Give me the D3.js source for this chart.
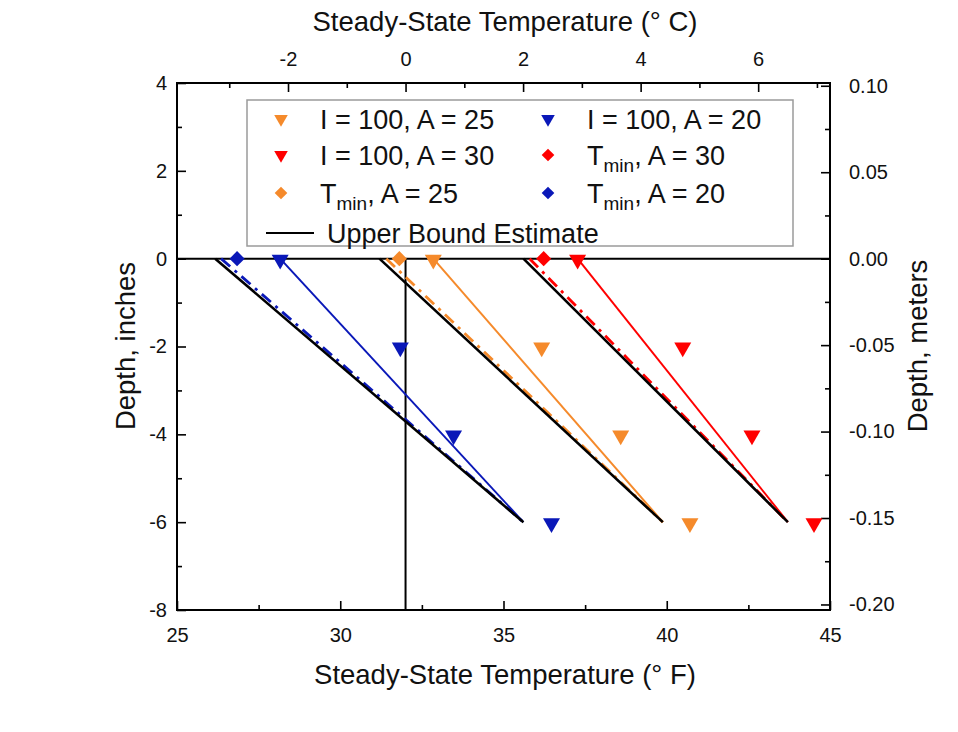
<!DOCTYPE html>
<html>
<head>
<meta charset="utf-8">
<script src="https://cdn.jsdelivr.net/npm/d3@7"></script>
<style>
  html, body { margin: 0; padding: 0; background: #fff; }
  svg { display: block; font-family: "Liberation Sans", Arial, sans-serif; }
</style>
</head>
<body>
<svg id="chart" width="958" height="732"></svg>
<script>
// Depths (inches) at which the steady-state profile is evaluated
const depths = [0, -2, -4, -6];

// I = 100 steady-state temperatures (°F) at each depth
const i100A20 = [28.16, 31.84, 33.47, 36.47];
const i100A25 = [32.85, 36.17, 38.59, 40.71];
const i100A30 = [37.27, 40.49, 42.61, 44.51];

// Minimum surface temperatures (°F) at depth 0
const tminA20 = 26.84;
const tminA25 = 31.81;
const tminA30 = 36.23;

// Upper bound estimate lines: surface and 6-inch temperatures (°F)
const upperTop = [26.17, 31.20, 35.61];
const upperBottom = [35.61, 39.88, 43.71];

// Solid fitted lines from the I = 100 surface points
const fitTop = [28.16, 32.85, 37.27];
const fitBottom = [35.61, 39.88, 43.71];

// Dash-dot lines tied to the T_min values
const tminLineTop = [26.35, 31.41, 35.80];
const tminLineBottom = [35.61, 39.88, 43.71];

const seriesColors = ["#0a18b8", "#f58a2b", "#ff0000"]; // A = 20, 25, 30

// Tick values
const fTicks = [25, 30, 35, 40, 45];
const cTicks = [-2, 0, 2, 4, 6];
const inchTicks = [4, 2, 0, -2, -4, -6, -8];
const meterTicks = [0.10, 0.05, 0.00, -0.05, -0.10, -0.15, -0.20];

const svg = d3.select("#chart");
const pL = 177, pR = 830, pT = 83, pB = 610;

const x = d3.scaleLinear().domain([25, 45]).range([pL, pR]);
const y = d3.scaleLinear().domain([4, -8]).range([pT, pB]);
const toC = f => (f - 32) * 5 / 9;
const xC = d3.scaleLinear().domain([toC(25), toC(45)]).range([pL, pR]);
const yM = d3.scaleLinear().domain([4 * 0.0254, -8 * 0.0254]).range([pT, pB]);

const majorLen = 9, minorLen = 5;
// plain hyphen for negative tick labels
const fmtInt = d => String(Math.round(d));
const fmt2 = d => (Math.abs(d) < 1e-9 ? 0 : d).toFixed(2);

function styleAxis(g) {
  g.select(".domain").remove();
  g.selectAll(".tick line").attr("stroke", "#000").attr("stroke-width", 1.6);
  g.selectAll(".tick text").attr("font-size", 20).attr("fill", "#111")
    .attr("font-family", "'Liberation Sans', Arial, sans-serif");
}

// Bottom axis (°F), ticks pointing inward
svg.append("g").attr("transform", `translate(0,${pB})`)
  .call(d3.axisBottom(x).tickValues(d3.range(27.5, 45, 5)).tickSize(-minorLen).tickFormat(""))
  .call(styleAxis);
svg.append("g").attr("transform", `translate(0,${pB})`)
  .call(d3.axisBottom(x).tickValues(fTicks).tickSize(-majorLen).tickPadding(majorLen + 9).tickFormat(fmtInt))
  .call(styleAxis);

// Top axis (°C)
svg.append("g").attr("transform", `translate(0,${pT})`)
  .call(d3.axisTop(xC).tickValues([-3, -1, 1, 3, 5, 7]).tickSize(-minorLen).tickFormat(""))
  .call(styleAxis);
svg.append("g").attr("transform", `translate(0,${pT})`)
  .call(d3.axisTop(xC).tickValues(cTicks).tickSize(-majorLen).tickPadding(majorLen + 8).tickFormat(fmtInt))
  .call(styleAxis);

// Left axis (inches)
svg.append("g").attr("transform", `translate(${pL},0)`)
  .call(d3.axisLeft(y).tickValues([3, 1, -1, -3, -5, -7]).tickSize(-minorLen).tickFormat(""))
  .call(styleAxis);
svg.append("g").attr("transform", `translate(${pL},0)`)
  .call(d3.axisLeft(y).tickValues(inchTicks).tickSize(-majorLen).tickPadding(majorLen + 1).tickFormat(fmtInt))
  .call(styleAxis);

// Right axis (meters)
svg.append("g").attr("transform", `translate(${pR},0)`)
  .call(d3.axisRight(yM).tickValues([0.075, 0.025, -0.025, -0.075, -0.125, -0.175]).tickSize(-minorLen).tickFormat(""))
  .call(styleAxis);
svg.append("g").attr("transform", `translate(${pR},0)`)
  .call(d3.axisRight(yM).tickValues(meterTicks).tickSize(-majorLen).tickPadding(majorLen + 10).tickFormat(fmt2))
  .call(styleAxis);

// Frame
svg.append("rect").attr("x", pL).attr("y", pT)
  .attr("width", pR - pL).attr("height", pB - pT)
  .attr("fill", "none").attr("stroke", "#000").attr("stroke-width", 2);

// Reference lines: ground surface and freezing point
svg.append("line").attr("x1", pL).attr("x2", pR)
  .attr("y1", y(0)).attr("y2", y(0))
  .attr("stroke", "#000").attr("stroke-width", 2);
svg.append("line").attr("x1", x(32)).attr("x2", x(32))
  .attr("y1", y(0)).attr("y2", y(-8))
  .attr("stroke", "#000").attr("stroke-width", 2);

const lineGen = d3.line().x(d => x(d[0])).y(d => y(d[1]));
const plot = svg.append("g");

// Dash-dot T_min lines
tminLineTop.forEach((t, i) => {
  plot.append("path")
    .attr("d", lineGen([[t, 0], [tminLineBottom[i], -6]]))
    .attr("fill", "none").attr("stroke", seriesColors[i]).attr("stroke-width", 2.8)
    .attr("stroke-dasharray", "12,6,3,6");
});

// Solid fitted lines
fitTop.forEach((t, i) => {
  plot.append("path")
    .attr("d", lineGen([[t, 0], [fitBottom[i], -6]]))
    .attr("fill", "none").attr("stroke", seriesColors[i]).attr("stroke-width", 2);
});

// Upper bound estimates
upperTop.forEach((t, i) => {
  plot.append("path")
    .attr("d", lineGen([[t, 0], [upperBottom[i], -6]]))
    .attr("fill", "none").attr("stroke", "#000").attr("stroke-width", 2.6);
});

const triangle = d3.symbol().type(d3.symbolTriangle).size(125);
const diamond = d3.symbol().type(d3.symbolSquare).size(115);

// I = 100 triangles
[i100A20, i100A25, i100A30].forEach((vals, i) => {
  plot.selectAll(null).data(vals.map((v, k) => [v, depths[k]])).enter()
    .append("path")
    .attr("d", triangle)
    .attr("transform", d => `translate(${x(d[0])},${y(d[1]) + 1}) rotate(180)`)
    .attr("fill", seriesColors[i]);
});

// T_min diamonds
[tminA20, tminA25, tminA30].forEach((v, i) => {
  plot.append("path")
    .attr("d", diamond)
    .attr("transform", `translate(${x(v)},${y(0)}) rotate(45)`)
    .attr("fill", seriesColors[i]);
});

// Axis titles
const titleSize = 27.5;
svg.append("text").attr("x", 505).attr("y", 684)
  .attr("text-anchor", "middle").attr("font-size", titleSize).attr("fill", "#111")
  .text("Steady-State Temperature (° F)");
svg.append("text").attr("x", 505).attr("y", 31)
  .attr("text-anchor", "middle").attr("font-size", titleSize).attr("fill", "#111")
  .text("Steady-State Temperature (° C)");
svg.append("text")
  .attr("transform", `translate(135,346) rotate(-90)`)
  .attr("text-anchor", "middle").attr("font-size", titleSize).attr("fill", "#111")
  .text("Depth, inches");
svg.append("text")
  .attr("transform", `translate(927,346) rotate(-90)`)
  .attr("text-anchor", "middle").attr("font-size", titleSize).attr("fill", "#111")
  .text("Depth, meters");

// Legend
const legend = svg.append("g");
legend.append("rect").attr("x", 247).attr("y", 100).attr("width", 546).attr("height", 146)
  .attr("fill", "#fff").attr("stroke", "#9a9a9a").attr("stroke-width", 1.5);

const legendItems = [
  { col: 0, row: 0, sym: "tri", color: seriesColors[1], label: ["I = 100, A = 25"] },
  { col: 1, row: 0, sym: "tri", color: seriesColors[0], label: ["I = 100, A = 20"] },
  { col: 0, row: 1, sym: "tri", color: seriesColors[2], label: ["I = 100, A = 30"] },
  { col: 1, row: 1, sym: "dia", color: seriesColors[2], label: ["T", "min", ", A = 30"] },
  { col: 0, row: 2, sym: "dia", color: seriesColors[1], label: ["T", "min", ", A = 25"] },
  { col: 1, row: 2, sym: "dia", color: seriesColors[0], label: ["T", "min", ", A = 20"] },
  { col: 0, row: 3, sym: "line", color: "#000", label: ["Upper Bound Estimate"] }
];
const rowY = [119, 155, 193, 233];
const symX = [281, 548];
const textX = [320, 587];
const legendTri = d3.symbol().type(d3.symbolTriangle).size(80);
const legendDia = d3.symbol().type(d3.symbolSquare).size(80);

legendItems.forEach(it => {
  const cy = rowY[it.row];
  if (it.sym === "tri") {
    legend.append("path").attr("d", legendTri)
      .attr("transform", `translate(${symX[it.col]},${cy}) rotate(180)`).attr("fill", it.color);
  } else if (it.sym === "dia") {
    legend.append("path").attr("d", legendDia)
      .attr("transform", `translate(${symX[it.col]},${cy}) rotate(45)`).attr("fill", it.color);
  } else {
    legend.append("line").attr("x1", 266).attr("x2", 314).attr("y1", cy).attr("y2", cy)
      .attr("stroke", it.color).attr("stroke-width", 2);
  }
  const tx = it.sym === "line" ? 327 : textX[it.col];
  const t = legend.append("text").attr("x", tx).attr("y", cy + 10)
    .attr("font-size", 27).attr("fill", "#111");
  if (it.label.length === 1) {
    t.text(it.label[0]);
  } else {
    t.append("tspan").text(it.label[0]);
    t.append("tspan").attr("font-size", 19).attr("dy", 7).text(it.label[1]);
    t.append("tspan").attr("dy", -7).text(it.label[2]);
  }
});
</script>
</body>
</html>
